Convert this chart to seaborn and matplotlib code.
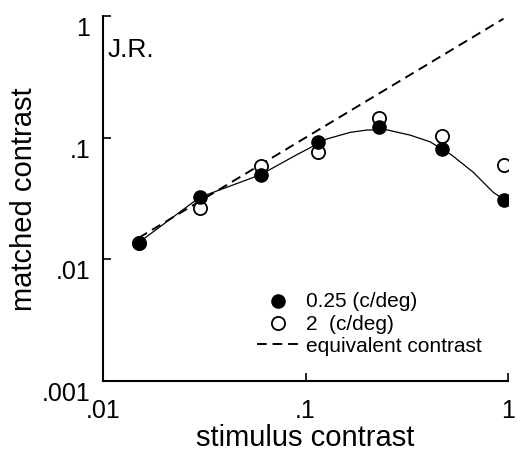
import matplotlib
matplotlib.use("Agg")
import matplotlib.pyplot as plt
import seaborn as sns

# stimulus contrast of each test
stimulus = [0.015, 0.03, 0.06, 0.115, 0.23, 0.47, 0.96]
# matched contrast, 0.25 c/deg (filled) and 2 c/deg (open)
matched_025 = [0.0135, 0.0323, 0.0496, 0.0925, 0.1216, 0.0806, 0.0309]
matched_2 = [0.0135, 0.0264, 0.0588, 0.0757, 0.145, 0.1037, 0.0599]

# smooth curve drawn through the 0.25 c/deg points
curve_x = [0.0148, 0.03, 0.06, 0.09, 0.127, 0.166, 0.2005, 0.252, 0.328,
           0.412, 0.527, 0.674, 0.846, 0.96]
curve_y = [0.0135, 0.0323, 0.0496, 0.072, 0.0974, 0.1105, 0.1155, 0.116,
           0.105, 0.0925, 0.072, 0.0519, 0.0355, 0.0309]

# equivalent contrast line (matched = stimulus)
equiv_x = [0.015, 0.95]

sns.set_theme(style="ticks")
plt.rcParams["font.family"] = ["Liberation Sans", "DejaVu Sans"]
plt.rcParams["text.color"] = "black"
plt.rcParams["axes.labelcolor"] = "black"

fig = plt.figure(figsize=(5.26, 4.56), dpi=100)
ax = fig.add_axes([0.1958, 0.1623, 0.77, 0.8004])

sns.lineplot(x=curve_x, y=curve_y, ax=ax, color="black", linewidth=0.9,
             sort=False, zorder=2)
sns.lineplot(x=equiv_x, y=equiv_x, ax=ax, color="black", linewidth=1.4,
             dashes=False, zorder=2, label="equivalent contrast")
ax.lines[-1].set_dashes((5, 3))

sns.scatterplot(x=stimulus, y=matched_2, ax=ax, marker="o", s=90,
                facecolor="white", edgecolor="black", linewidth=1.3,
                zorder=3, label="2  (c/deg)")
sns.scatterplot(x=stimulus, y=matched_025, ax=ax, marker="o", s=90,
                color="black", edgecolor="black", linewidth=1.0,
                zorder=4, label="0.25 (c/deg)")

ax.set_xscale("log")
ax.set_yscale("log")
ax.set_xlim(0.01, 1)
ax.set_ylim(0.001, 1)

ax.set_xticks([0.01, 0.1, 1])
ax.set_xticklabels([".01", ".1", "1"])
ax.set_yticks([0.001, 0.01, 0.1, 1])
ax.set_yticklabels([".001", ".01", ".1", "1"], va="top")
ax.minorticks_off()
ax.tick_params(direction="in", length=6, width=1.2, labelsize=18,
               colors="black")
ax.tick_params(axis="x", pad=12)
ax.tick_params(axis="y", pad=9)

sns.despine(ax=ax)
for side in ["left", "bottom"]:
    ax.spines[side].set_linewidth(1.5)
    ax.spines[side].set_color("black")

ax.set_xlabel("stimulus contrast", fontsize=21, labelpad=1)
ax.set_ylabel("matched contrast", fontsize=21, labelpad=3)

ax.text(0.012, 0.89, "J.R.", transform=ax.transAxes, fontsize=19,
        ha="left", va="baseline")

handles, labels = ax.get_legend_handles_labels()
order = [labels.index("0.25 (c/deg)"), labels.index("2  (c/deg)"),
         labels.index("equivalent contrast")]
ax.legend([handles[i] for i in order], [labels[i] for i in order],
          loc="upper left", bbox_to_anchor=(0.38, 0.2466), frameon=False,
          fontsize=15, handlelength=2.07, handletextpad=0.3,
          labelspacing=0.17, borderaxespad=0, borderpad=0)

fig.savefig("out.png", dpi=100)
